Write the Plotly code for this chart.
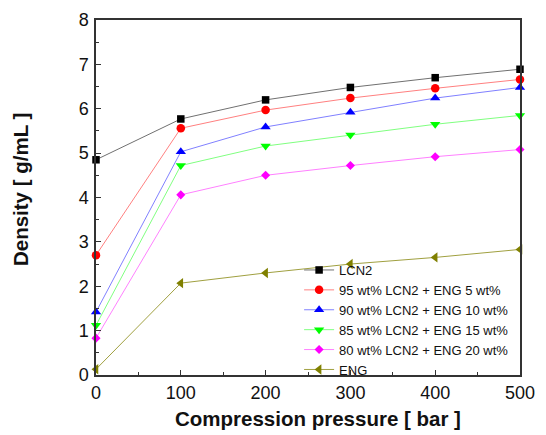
import plotly.graph_objects as go

pressure = [0, 100, 200, 300, 400, 500]
lcn2 = [4.85, 5.77, 6.20, 6.48, 6.70, 6.89]
mix95 = [2.70, 5.56, 5.97, 6.24, 6.46, 6.66]
mix90 = [1.42, 5.03, 5.59, 5.92, 6.24, 6.48]
mix85 = [1.12, 4.72, 5.16, 5.41, 5.65, 5.85]
mix80 = [0.83, 4.06, 4.50, 4.72, 4.92, 5.08]
eng = [0.13, 2.07, 2.30, 2.50, 2.65, 2.83]

names = ["LCN2", "95 wt% LCN2 + ENG 5 wt%", "90 wt% LCN2 + ENG 10 wt%",
         "85 wt% LCN2 + ENG 15 wt%", "80 wt% LCN2 + ENG 20 wt%", "ENG"]
series = [lcn2, mix95, mix90, mix85, mix80, eng]
x_title = "Compression pressure [ bar ]"
y_title = "Density [ g/mL ]"

marker_colors = ["#000000", "#ff0000", "#0000ff", "#00ff00", "#ff00ff", "#808000"]
line_colors = ["#707070", "#ff8080", "#8080ff", "#80ff80", "#ff80ff", "#a0a040"]
symbols = ["square", "circle", "triangle-up", "triangle-down", "diamond", "triangle-left"]
sizes = [7.5, 8.5, 9, 9, 7, 9]

fig = go.Figure()
for n, s, mc, lc, sy, sz in zip(names, series, marker_colors, line_colors, symbols, sizes):
    fig.add_trace(go.Scatter(
        x=pressure, y=s, name=n, mode="lines+markers",
        line=dict(color=lc, width=1),
        marker=dict(color=mc, symbol=sy, size=sz, line=dict(width=0)),
        cliponaxis=False,
    ))

axis_common = dict(
    showline=True, linecolor="#333333", linewidth=1.5, mirror=True,
    ticks="inside", ticklen=5, tickwidth=1, tickcolor="#333333",
    showgrid=False, zeroline=False, automargin=False,
    tickfont=dict(family="Liberation Sans, Arial", size=18, color="#111111"),
)

fig.update_xaxes(
    range=[0, 500], dtick=100, tick0=0,
    minor=dict(ticks="inside", ticklen=3, dtick=50, tickcolor="#333333"),
    ticklabelstandoff=1,
    **axis_common,
)
fig.update_yaxes(
    range=[0, 8], dtick=1, tick0=0,
    minor=dict(ticks="inside", ticklen=3, dtick=0.5, tickcolor="#333333"),
    ticklabelstandoff=2,
    **axis_common,
)

title_font = dict(family="Liberation Sans, Arial", size=20.5, color="#111111")
fig.add_annotation(
    text=f"<b>{x_title}</b>", xref="paper", yref="paper",
    x=0.5236, y=0, xanchor="center", yanchor="middle", yshift=-43,
    showarrow=False, font=title_font,
)
fig.add_annotation(
    text=f"<b>{y_title}</b>", xref="paper", yref="paper",
    x=0, y=0.521, xanchor="center", yanchor="middle", xshift=-76,
    textangle=-90, showarrow=False, font=title_font,
)

fig.update_layout(
    width=546, height=435,
    margin=dict(l=88, r=34, t=12, b=68, autoexpand=False),
    paper_bgcolor="white", plot_bgcolor="white",
    showlegend=True,
    legend=dict(
        x=0.479, y=0.338, xanchor="left", yanchor="top",
        bgcolor="rgba(0,0,0,0)", borderwidth=0,
        font=dict(family="Liberation Sans, Arial", size=13, color="#111111"),
        tracegroupgap=0, itemwidth=30,
    ),
)

fig.write_html("out.html")
